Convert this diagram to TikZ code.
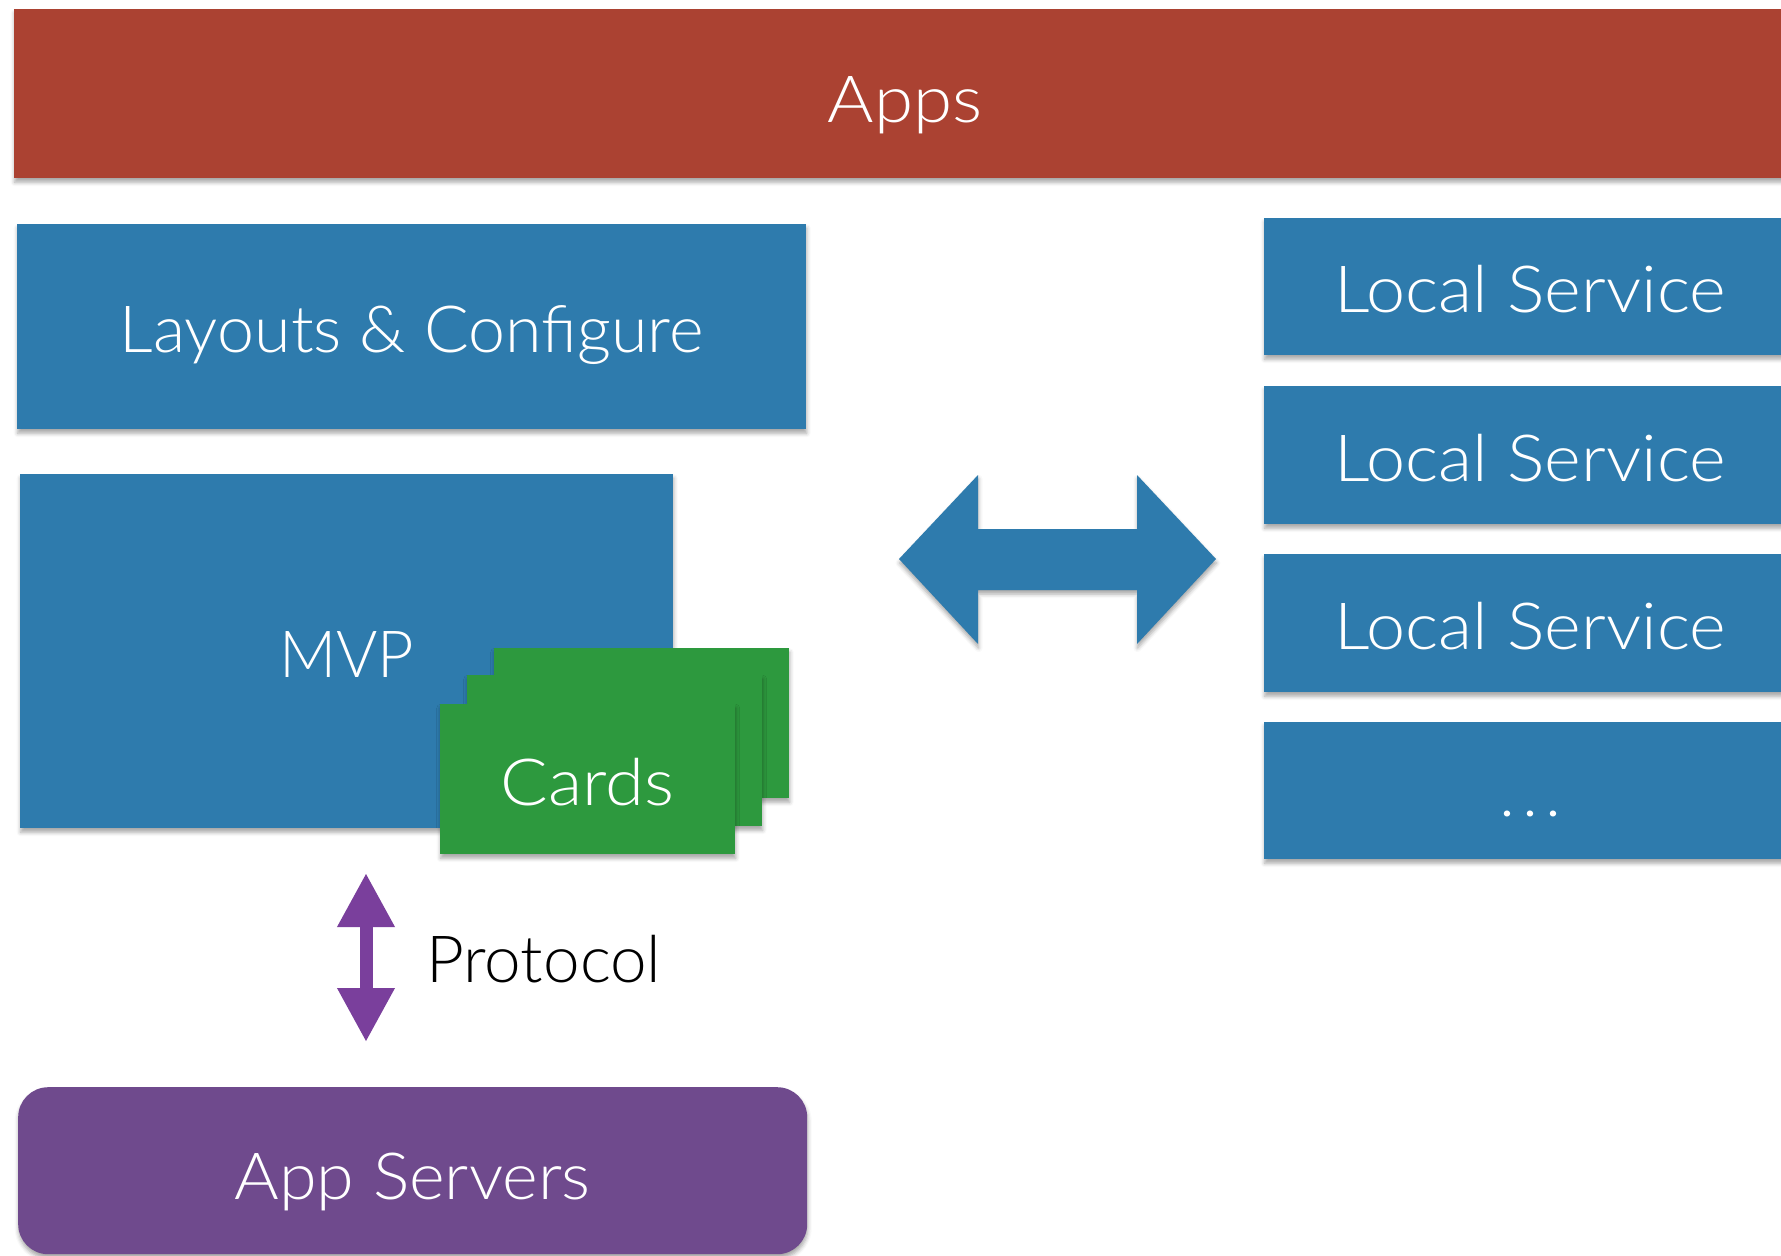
\documentclass[tikz,border=0pt]{standalone}
\usepackage{fontspec}
\setmainfont{Lato Light}
\usetikzlibrary{arrows.meta,shadows.blur}
\definecolor{appsred}{RGB}{171,66,50}
\definecolor{boxblue}{RGB}{46,123,173}
\definecolor{cardgreen}{RGB}{45,153,62}
\definecolor{srvpurple}{RGB}{111,74,141}
\definecolor{arrpurple}{RGB}{122,63,156}
\tikzset{
  sh/.style={blur shadow={shadow xshift=0.5pt, shadow yshift=-4pt, shadow blur radius=4pt, shadow opacity=35}},
  wide/.style={font=\fontsize{65}{78}\selectfont\addfontfeature{FakeStretch=#1}},
  block/.style={rectangle, inner sep=0pt, anchor=north west, text=white, sh,
    wide=1.05, text height=52pt, text depth=0pt},
  bluebox/.style={block, fill=boxblue},
  redbox/.style={block, fill=appsred, text height=57pt},
  greenbox/.style={block, fill=cardgreen},
  srvbox/.style={block, fill=srvpurple, rounded corners=30pt, text height=57pt},
  protoarrow/.style={draw=arrpurple, line width=13pt,
    {Triangle[width=54pt,length=54pt]}-{Triangle[width=54pt,length=54pt]}},
  bigarrow/.style={fill=boxblue, sh},
  plain/.style={inner sep=0pt, text=black, wide=1.01}
}
\begin{document}
\begin{tikzpicture}[x=1pt,y=-1pt]
\useasboundingbox (0,0) rectangle (1781,1256);
\node[redbox, wide=1.09, minimum width=1782pt, minimum height=169pt] (apps) at (14,9) {Apps};
\node[bluebox, wide=1.02, minimum width=789pt, minimum height=205pt] (layouts) at (17,224) {Layouts \& Configure};
\node[bluebox, wide=0.97, minimum width=653pt, minimum height=354pt] (mvp) at (20,474) {MVP};
\node[greenbox, minimum width=295pt, minimum height=150pt] (card3) at (494,648) {};
\node[greenbox, minimum width=295pt, minimum height=151pt] (card2) at (467,675) {};
\node[greenbox, wide=1.085, minimum width=295pt, minimum height=150pt] (card1) at (440,704) {Cards};
\node[bluebox, wide=1.08, minimum width=532pt, minimum height=137pt] (ls1) at (1264,218) {Local Service};
\node[bluebox, wide=1.08, minimum width=532pt, minimum height=138pt] (ls2) at (1264,386) {Local Service};
\node[bluebox, wide=1.08, minimum width=532pt, minimum height=138pt] (ls3) at (1264,554) {Local Service};
\node[bluebox, minimum width=532pt, minimum height=137pt] (ls4) at (1264,722) {.\kern7pt.\kern7pt.};
\node[srvbox, wide=1.05, minimum width=789pt, minimum height=167pt] (servers) at (18,1087) {App Servers};
% big double arrow between the MVP side and the local services
\path[bigarrow] (899,559) -- (978,475) -- (978,529) -- (1137,529) -- (1137,475)
  -- (1216,559) -- (1137,644) -- (1137,590) -- (978,590) -- (978,644) -- cycle;
% protocol arrow
\coordinate (pa) at (366,873);
\coordinate (pb) at (366,1042);
\draw[protoarrow] (pa) -- (pb);
\node[plain, anchor=base west] (protocol) at (426,982) {Protocol};
\end{tikzpicture}
\end{document}
